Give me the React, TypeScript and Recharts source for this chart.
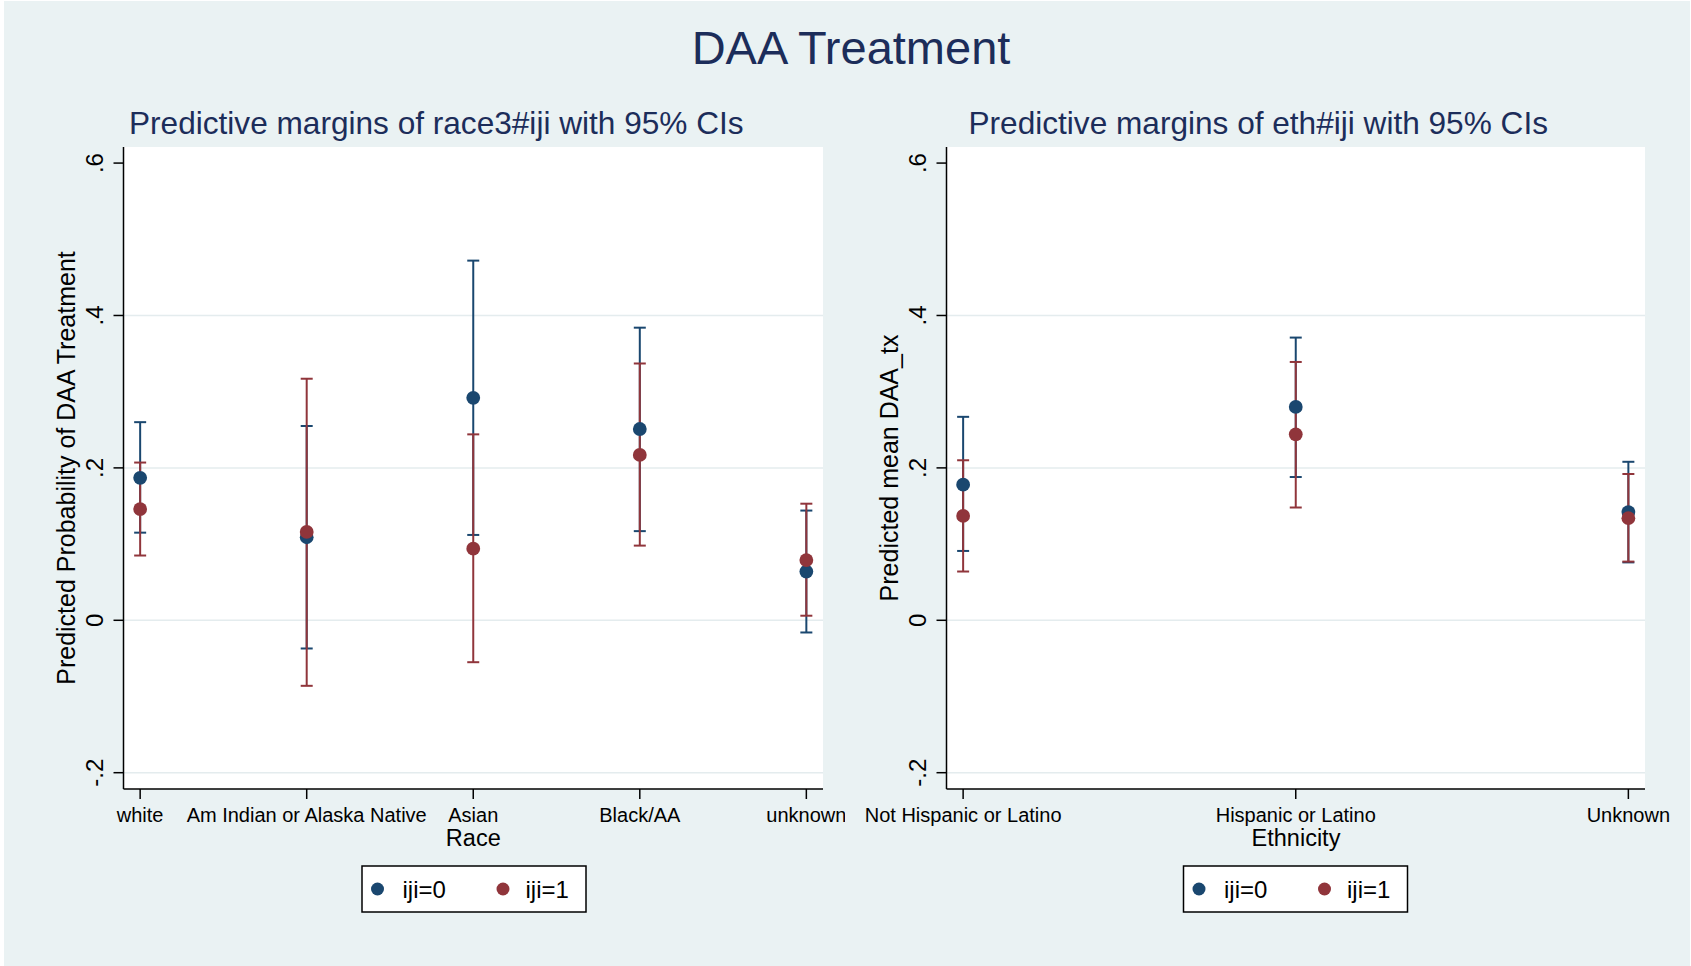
import React from 'react';
import { ScatterChart, Scatter, XAxis, YAxis, ErrorBar, CartesianGrid } from 'recharts';

// ---------- data ----------
const raceCategories = ['white', 'Am Indian or Alaska Native', 'Asian', 'Black/AA', 'unknown'];
const raceIji0 = [0.187, 0.109, 0.292, 0.251, 0.064];
const raceIji0Low = [0.115, -0.037, 0.112, 0.117, -0.016];
const raceIji0High = [0.26, 0.255, 0.472, 0.384, 0.144];
const raceIji1 = [0.146, 0.116, 0.094, 0.217, 0.079];
const raceIji1Low = [0.085, -0.086, -0.055, 0.098, 0.006];
const raceIji1High = [0.207, 0.317, 0.244, 0.337, 0.153];

const ethCategories = ['Not Hispanic or Latino', 'Hispanic or Latino', 'Unknown'];
const ethIji0 = [0.178, 0.28, 0.142];
const ethIji0Low = [0.091, 0.188, 0.076];
const ethIji0High = [0.267, 0.371, 0.208];
const ethIji1 = [0.137, 0.244, 0.134];
const ethIji1Low = [0.064, 0.148, 0.077];
const ethIji1High = [0.21, 0.339, 0.192];

const yTicks = [-0.2, 0, 0.2, 0.4, 0.6];
const yTickLabels = ['-.2', '0', '.2', '.4', '.6'];
const gridValues = [-0.2, 0, 0.2, 0.4];
const legendLabels = ['iji=0', 'iji=1'];

// ---------- style ----------
const FONT = '"Liberation Sans", Arial, Helvetica, sans-serif';
const NAVY = '#1A476F';
const MAROON = '#90353B';
const BG = '#EAF2F3';
const GRID = '#E4ECEE';
const TITLE = '#1C2D5A';
const Y_DOMAIN: [number, number] = [-0.2214, 0.6211];

function buildRows(values: number[], low: number[], high: number[]) {
  return values.map((v, i) => ({ x: i, y: v, err: [v - low[i], high[i] - v] }));
}

const noShape = () => <g />;
const dot = (color: string) => (props: any) => (
  <circle cx={props.cx} cy={props.cy} r={6.9} fill={color} />
);

const YTick = (props: any) => {
  const { x, y, payload } = props;
  const idx = yTicks.indexOf(payload.value);
  const bx = x - 10;
  return (
    <text
      x={bx}
      y={y}
      transform={`rotate(-90, ${bx}, ${y})`}
      textAnchor="middle"
      fontSize={24}
      fontFamily={FONT}
      fill="#000"
    >
      {idx >= 0 ? yTickLabels[idx] : ''}
    </text>
  );
};

const makeXTick = (labels: string[]) => (props: any) => {
  const { x, y, payload } = props;
  return (
    <text x={x} y={y + 23} textAnchor="middle" fontSize={20} fontFamily={FONT} fill="#000">
      {labels[payload.value]}
    </text>
  );
};

type PanelProps = {
  left: number;
  width: number;
  margin: { top: number; right: number; bottom: number; left: number };
  categories: string[];
  xDomain: [number, number];
  s0: number[]; s0Low: number[]; s0High: number[];
  s1: number[]; s1Low: number[]; s1High: number[];
};

function Panel(p: PanelProps) {
  const d0 = buildRows(p.s0, p.s0Low, p.s0High);
  const d1 = buildRows(p.s1, p.s1Low, p.s1High);
  const axisStyle = { stroke: '#000', strokeWidth: 1.5 };
  return (
    <div style={{ position: 'absolute', left: p.left, top: 0 }}>
      <ScatterChart width={p.width} height={966} margin={p.margin}>
        <CartesianGrid
          vertical={false}
          horizontalValues={gridValues}
          stroke={GRID}
          strokeWidth={1.5}
          fill="#FFFFFF"
          fillOpacity={1}
        />
        <XAxis
          type="number"
          dataKey="x"
          domain={p.xDomain}
          ticks={p.categories.map((_, i) => i)}
          interval={0}
          allowDataOverflow
          height={60}
          tickSize={10}
          tickMargin={0}
          axisLine={axisStyle}
          tickLine={axisStyle}
          tick={makeXTick(p.categories)}
        />
        <YAxis
          type="number"
          dataKey="y"
          domain={Y_DOMAIN}
          ticks={yTicks}
          interval={0}
          allowDataOverflow
          width={60}
          tickSize={10}
          tickMargin={0}
          axisLine={axisStyle}
          tickLine={axisStyle}
          tick={YTick}
        />
        <Scatter data={d0} shape={noShape} isAnimationActive={false}>
          <ErrorBar dataKey="err" direction="y" width={6} stroke={NAVY} strokeWidth={2} isAnimationActive={false} />
        </Scatter>
        <Scatter data={d1} shape={noShape} isAnimationActive={false}>
          <ErrorBar dataKey="err" direction="y" width={6} stroke={MAROON} strokeWidth={2} isAnimationActive={false} />
        </Scatter>
        <Scatter data={d0} shape={dot(NAVY)} isAnimationActive={false} />
        <Scatter data={d1} shape={dot(MAROON)} isAnimationActive={false} />
      </ScatterChart>
    </div>
  );
}

function Legend({ x }: { x: number }) {
  return (
    <g>
      <rect x={x} y={866} width={224} height={46} fill="#FFFFFF" stroke="#000" strokeWidth={1.5} />
      <circle cx={x + 15.5} cy={889} r={6.5} fill={NAVY} />
      <text x={x + 40.5} y={898} fontSize={24} fontFamily={FONT} fill="#000">{legendLabels[0]}</text>
      <circle cx={x + 141} cy={889} r={6.5} fill={MAROON} />
      <text x={x + 163.5} y={898} fontSize={24} fontFamily={FONT} fill="#000">{legendLabels[1]}</text>
    </g>
  );
}

export default function App() {
  return (
    <div style={{ position: 'absolute', left: 0, top: 0, width: 1691, height: 966, background: '#FFFFFF', overflow: 'hidden' }}>
      <div style={{ position: 'absolute', left: 4, top: 1, width: 1686, height: 965, background: BG }} />
      <Panel
        left={0}
        width={845}
        margin={{ top: 147, right: 22, bottom: 117, left: 63.5 }}
        categories={raceCategories}
        xDomain={[-0.1, 4.1]}
        s0={raceIji0} s0Low={raceIji0Low} s0High={raceIji0High}
        s1={raceIji1} s1Low={raceIji1Low} s1High={raceIji1High}
      />
      <Panel
        left={845}
        width={846}
        margin={{ top: 147, right: 46, bottom: 117, left: 41.5 }}
        categories={ethCategories}
        xDomain={[-0.05, 2.05]}
        s0={ethIji0} s0Low={ethIji0Low} s0High={ethIji0High}
        s1={ethIji1} s1Low={ethIji1Low} s1High={ethIji1High}
      />
      <svg width={1691} height={966} style={{ position: 'absolute', left: 0, top: 0, pointerEvents: 'none' }}>
        <text x={851} y={64} textAnchor="middle" fontSize={47} fontFamily={FONT} fill={TITLE}>DAA Treatment</text>
        <text x={129} y={134} fontSize={31.6} fontFamily={FONT} fill={TITLE}>Predictive margins of race3#iji with 95% CIs</text>
        <text x={968.5} y={134} fontSize={31.6} fontFamily={FONT} fill={TITLE}>Predictive margins of eth#iji with 95% CIs</text>
        <text x={74.5} y={468} transform="rotate(-90, 74.5, 468)" textAnchor="middle" fontSize={25} fontFamily={FONT} fill="#000">Predicted Probability of DAA Treatment</text>
        <text x={897.5} y={468} transform="rotate(-90, 897.5, 468)" textAnchor="middle" fontSize={25} fontFamily={FONT} fill="#000">Predicted mean DAA_tx</text>
        <text x={473.3} y={846} textAnchor="middle" fontSize={23.5} fontFamily={FONT} fill="#000">Race</text>
        <text x={1296} y={846} textAnchor="middle" fontSize={23.5} fontFamily={FONT} fill="#000">Ethnicity</text>
        <Legend x={362} />
        <Legend x={1183.5} />
      </svg>
    </div>
  );
}
